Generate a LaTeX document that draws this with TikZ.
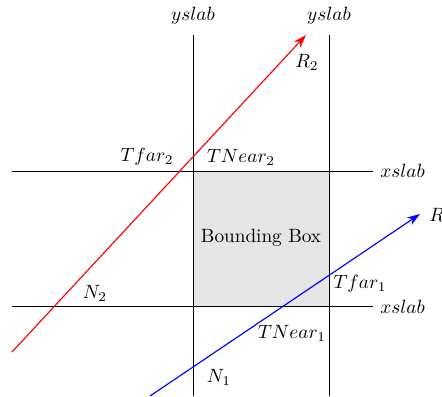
\documentclass[tikz,border=0pt]{standalone}
\usetikzlibrary{arrows.meta}

\begin{document}
\begin{tikzpicture}[
    x=0.52pt, y=-0.52pt,
    slab/.style={black, thin},
    ray/.style={-{Stealth[length=2.4mm, width=1.6mm]}, semithick},
    lbl/.style={inner sep=1pt},
]
    \useasboundingbox (0,0) rectangle (442,396);

    %==================== BOX ====================
    \fill[gray!20] (193,171) rectangle (329,306);
    \node[lbl] (bb) at (261,238) {Bounding Box};

    %==================== SLABS ====================
    \coordinate (y1top) at (193,35);  \coordinate (y1bot) at (193,396);
    \coordinate (y2top) at (329,35);  \coordinate (y2bot) at (329,396);
    \coordinate (x1l) at (12,171);    \coordinate (x1r) at (373,171);
    \coordinate (x2l) at (12,306);    \coordinate (x2r) at (373,306);
    \draw[slab] (y1top) -- (y1bot);
    \draw[slab] (y2top) -- (y2bot);
    \draw[slab] (x1l) -- (x1r);
    \draw[slab] (x2l) -- (x2r);

    \node[lbl, anchor=south] (ys1) at (193,27) {$yslab$};
    \node[lbl, anchor=south] (ys2) at (329,27) {$yslab$};
    \node[lbl, anchor=west] (xs1) at (378,171) {$xslab$};
    \node[lbl, anchor=west] (xs2) at (378,307) {$xslab$};

    %==================== RAYS ====================
    \coordinate (r2s) at (12,352);  \coordinate (r2e) at (306,35);
    \coordinate (r1s) at (150,396); \coordinate (r1e) at (420,214);
    \draw[ray, red] (r2s) -- (r2e);
    \draw[ray, blue] (r1s) -- (r1e);

    %==================== LABELS ====================
    \node[lbl] (R2) at (307,62) {$R_2$};
    \node[lbl, anchor=west] (R1) at (427,216) {$R_1$};
    \node[lbl] (tf2) at (147,157) {$Tfar_2$};
    \node[lbl] (tn2) at (241,157) {$TNear_2$};
    \node[lbl] (n2) at (95,293) {$N_2$};
    \node[lbl] (tf1) at (360,284) {$Tfar_1$};
    \node[lbl] (tn1) at (292,333) {$TNear_1$};
    \node[lbl] (n1) at (219,377) {$N_1$};

\end{tikzpicture}
\end{document}
